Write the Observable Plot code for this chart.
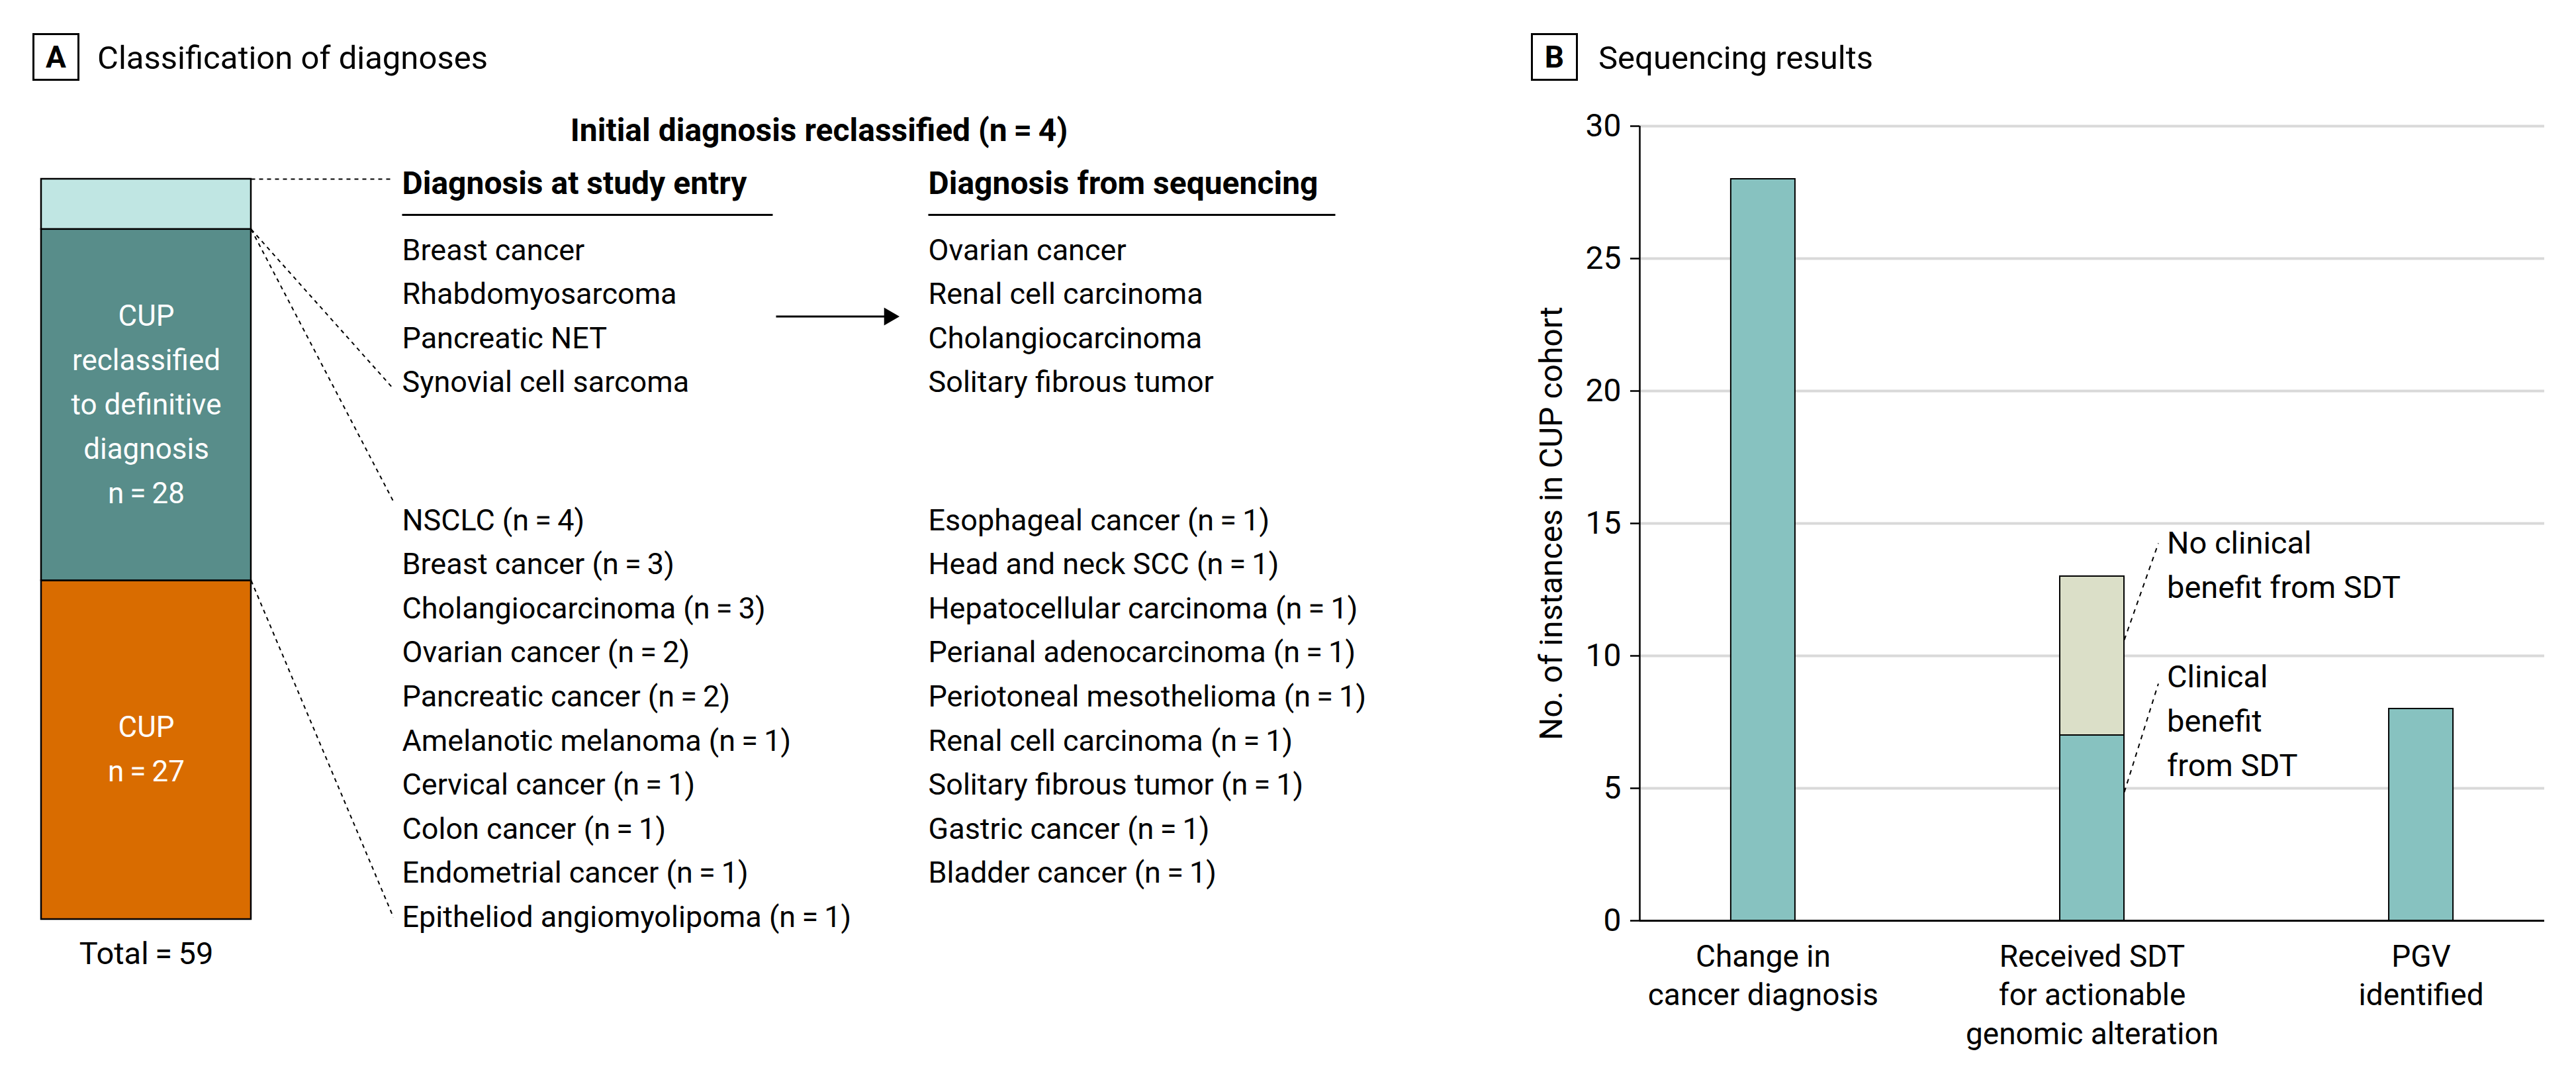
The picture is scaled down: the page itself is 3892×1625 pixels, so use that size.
<!DOCTYPE html>
<html><head><meta charset="utf-8">
<script src="https://cdn.jsdelivr.net/npm/d3@7"></script>
<script src="https://cdn.jsdelivr.net/npm/@observablehq/plot@0.6"></script>
<style>
html,body{margin:0;padding:0;background:#fff;}
#fig{position:relative;width:3892px;height:1625px;background:#fff;font-family:Roboto,"Open Sans",sans-serif;color:#000;display:flex;flex-direction:row;align-items:flex-start}
#fig svg{display:block;max-width:none;flex:none}
.pbox{position:absolute;width:65px;height:66px;border:3px solid #000;font-weight:700;font-size:46px;display:flex;align-items:center;justify-content:center;box-sizing:content-box;line-height:1}
.ptitle{position:absolute;font-size:49px;line-height:50px;white-space:nowrap}
</style></head><body>
<div id="fig"></div>
<script>
// ---------------- DATA ----------------
// Panel A: stacked bar (bottom to top)
const stackGroups = ["CUP", "CUP reclassified to definitive diagnosis", "Initial diagnosis reclassified"];
const stackCounts = [27, 28, 4];
const stackLabels = [["CUP", "n\u2009=\u200927"], ["CUP", "reclassified", "to definitive", "diagnosis", "n\u2009=\u200928"], []];

// Panel A: initial diagnosis reclassified
const entryDiagnoses = ["Breast cancer", "Rhabdomyosarcoma", "Pancreatic NET", "Synovial cell sarcoma"];
const sequencingDiagnoses = ["Ovarian cancer", "Renal cell carcinoma", "Cholangiocarcinoma", "Solitary fibrous tumor"];

// Panel A: CUP reclassified to definitive diagnosis
const reclassNamesLeft = ["NSCLC", "Breast cancer", "Cholangiocarcinoma", "Ovarian cancer", "Pancreatic cancer",
  "Amelanotic melanoma", "Cervical cancer", "Colon cancer", "Endometrial cancer", "Epitheliod angiomyolipoma"];
const reclassCountsLeft = [4, 3, 3, 2, 2, 1, 1, 1, 1, 1];
const reclassNamesRight = ["Esophageal cancer", "Head and neck SCC", "Hepatocellular carcinoma", "Perianal adenocarcinoma",
  "Periotoneal mesothelioma", "Renal cell carcinoma", "Solitary fibrous tumor", "Gastric cancer", "Bladder cancer"];
const reclassCountsRight = [1, 1, 1, 1, 1, 1, 1, 1, 1];

// Panel B: sequencing results
const seqCategories = [["Change in", "cancer diagnosis"], ["Received SDT", "for actionable", "genomic alteration"], ["PGV", "identified"]];
const seqSeries = ["Clinical benefit from SDT", "No clinical benefit from SDT"];
const seqPrimary = [28, 7, 8];
const seqNoBenefit = [0, 6, 0];
const yTicksB = [0, 5, 10, 15, 20, 25, 30];
const yLabelB = "No. of instances in CUP cohort";
const annotationLines = [["No clinical", "benefit from SDT"], ["Clinical", "benefit", "from SDT"]];

// ---------------- STYLE / LAYOUT ----------------
const stackColors = ["#d96c00", "#588d8a", "#c0e6e3"];
const seqColors = ["#87c2c0", "#dbdfc8"];
const FONT = "Roboto, 'Open Sans', sans-serif";
const fig = document.getElementById("fig");
const baseStyle = {fontFamily: FONT, fontSize: "45px", color: "#000", background: "transparent", overflow: "visible"};
const eqs = "\u2009=\u2009";

// ---------------- PANEL A ----------------
let acc = 0;
const stackTable = stackGroups.map((g, i) => {
  const y1 = acc; acc += stackCounts[i];
  return {g, y1, y2: acc, lines: stackLabels[i]};
});
const total = d3.sum(stackCounts);

const BAR_X1 = 62, BAR_X2 = 379, BAR_CX = (BAR_X1 + BAR_X2) / 2;
const Y_BOTTOM = 1388, Y_TOP = 270;
const yUnits = d3.scaleLinear().domain([Y_BOTTOM, Y_TOP]).range([0, total]); // layout pixel -> y units
const unitsPerPxA = total / (Y_BOTTOM - Y_TOP);

// single-line pieces of the bar labels, centred on each segment
const barLabelLines = [];
stackTable.forEach(d => {
  const n = d.lines.length, mid = (d.y1 + d.y2) / 2;
  d.lines.forEach((t, k) => barLabelLines.push({t, y: mid + ((n - 1) / 2 - k) * 67 * unitsPerPxA}));
});

const COL_ENTRY = 607, COL_SEQ = 1402, HEAD_CX = 1237;
const HEAD1_BASE = 212, HEAD2_BASE = 292, RULE_Y = 324;
const UP_BASE0 = 392, LOW_BASE0 = 800, ROW_STEP = 66.6;
const FS = 45, MID = 0.32 * FS; // baseline -> middle offset
const CONN_X = 594;

const rows = [];
entryDiagnoses.forEach((t, i) => rows.push({t, x: COL_ENTRY, y: yUnits(UP_BASE0 + i * ROW_STEP - MID)}));
sequencingDiagnoses.forEach((t, i) => rows.push({t, x: COL_SEQ, y: yUnits(UP_BASE0 + i * ROW_STEP - MID)}));
reclassNamesLeft.forEach((t, i) => rows.push({t: `${t} (n${eqs}${reclassCountsLeft[i]})`, x: COL_ENTRY, y: yUnits(LOW_BASE0 + i * ROW_STEP - MID)}));
reclassNamesRight.forEach((t, i) => rows.push({t: `${t} (n${eqs}${reclassCountsRight[i]})`, x: COL_SEQ, y: yUnits(LOW_BASE0 + i * ROW_STEP - MID)}));

const heads = [
  {t: `Initial diagnosis reclassified (n${eqs}${stackCounts[2]})`, x: HEAD_CX, y: yUnits(HEAD1_BASE - 0.32 * 48)},
  {t: "Diagnosis at study entry", x: COL_ENTRY, y: yUnits(HEAD2_BASE - 0.32 * 48)},
  {t: "Diagnosis from sequencing", x: COL_SEQ, y: yUnits(HEAD2_BASE - 0.32 * 48)}
];
const underlines = [{x1: COL_ENTRY, x2: 1167}, {x1: COL_SEQ, x2: 2017}];

const connectors = [
  {x1: BAR_X2, y1: total, x2: CONN_X, y2: total},
  {x1: BAR_X2, y1: total - stackCounts[2], x2: CONN_X, y2: yUnits(UP_BASE0 + 3 * ROW_STEP - 5)},
  {x1: BAR_X2, y1: total - stackCounts[2], x2: CONN_X, y2: yUnits(LOW_BASE0 - 43)},
  {x1: BAR_X2, y1: stackCounts[0], x2: CONN_X, y2: yUnits(LOW_BASE0 + 9 * ROW_STEP - MID)}
];
const arrowY = yUnits(UP_BASE0 + 1.5 * ROW_STEP - MID);

const chartA = Plot.plot({
  width: 2250, height: 1625, margin: 0,
  style: baseStyle,
  x: {type: "identity"},
  y: {domain: [0, total], range: [Y_BOTTOM, Y_TOP], axis: null},
  color: {domain: stackGroups, range: stackColors},
  marks: [
    Plot.rect(stackTable, {x1: () => BAR_X1, x2: () => BAR_X2, y1: "y1", y2: "y2", fill: "g", stroke: "#000", strokeWidth: 2.5}),
    Plot.text(barLabelLines, {x: () => BAR_CX, y: "y", text: "t", fill: "#fff", fontSize: 44}),
    Plot.text([`Total${eqs}${total}`], {x: () => BAR_CX, y: () => 0, text: d => d, dy: 52, fontSize: 47}),
    Plot.link(connectors, {x1: "x1", y1: "y1", x2: "x2", y2: "y2", stroke: "#000", strokeWidth: 2, strokeDasharray: "6,6"}),
    Plot.text(heads.slice(0, 1), {x: "x", y: "y", text: "t", textAnchor: "middle", fontSize: 48, fontWeight: 700}),
    Plot.text(heads.slice(1), {x: "x", y: "y", text: "t", textAnchor: "start", fontSize: 48, fontWeight: 700}),
    Plot.link(underlines, {x1: "x1", x2: "x2", y1: () => yUnits(RULE_Y), y2: () => yUnits(RULE_Y), stroke: "#000", strokeWidth: 3}),
    Plot.text(rows, {x: "x", y: "y", text: "t", textAnchor: "start", fontSize: FS}),
    Plot.link([{a: 1172, b: 1336}], {x1: "a", x2: "b", y1: () => arrowY, y2: () => arrowY, stroke: "#000", strokeWidth: 3}),
    Plot.dot([{a: 1343}], {x: "a", y: () => arrowY, symbol: "triangle", r: 10, rotate: 90, fill: "#000", stroke: "none"})
  ]
});
fig.appendChild(chartA);

// ---------------- PANEL B ----------------
const seqTable = [];
seqCategories.forEach((c, i) => {
  let base = 0;
  [seqPrimary[i], seqNoBenefit[i]].forEach((v, k) => {
    if (v > 0) seqTable.push({i, s: seqSeries[k], y1: base, y2: base + v});
    base += v;
  });
});
const X0 = -0.375, X1 = 2.375, HW = 0.0976;
const pxB = (X1 - X0) / 1367;   // x data units per pixel
const unitsPerPxB = 30 / 1200;  // y data units per pixel

const catLines = [];
seqCategories.forEach((lines, i) => lines.forEach((t, k) => catLines.push({t, x: i, y: -(54.6 + k * 58.5) * unitsPerPxB})));

const ANN_X = 1 + 113 * pxB;
const annTops = [14.25, 9.2];
const annLines = [];
annotationLines.forEach((lines, j) => lines.forEach((t, k) => annLines.push({t, x: ANN_X, y: annTops[j] - k * 67 * unitsPerPxB})));
const leaders = [
  {x1: 1 + HW, y1: 10.6, x2: 1 + 100 * pxB, y2: 14.25},
  {x1: 1 + HW, y1: 4.85, x2: 1 + 100 * pxB, y2: 8.95}
];

const chartB = Plot.plot({
  width: 1642, height: 1625, marginLeft: 227, marginRight: 48, marginTop: 190, marginBottom: 235,
  style: baseStyle,
  x: {domain: [X0, X1], axis: null},
  y: {domain: [0, 30], axis: null},
  color: {domain: seqSeries, range: seqColors},
  marks: [
    Plot.ruleY(yTicksB.filter(d => d > 0), {stroke: "#d9d9d9", strokeWidth: 4}),
    Plot.rect(seqTable, {x1: d => d.i - HW, x2: d => d.i + HW, y1: "y1", y2: "y2", fill: "s", stroke: "#000", strokeWidth: 2}),
    Plot.ruleY([0], {stroke: "#000", strokeWidth: 3}),
    Plot.ruleX([X0], {y1: 0, y2: 30, stroke: "#000", strokeWidth: 2.5}),
    Plot.ruleY(yTicksB, {x1: () => X0 - 14 * pxB, x2: () => X0, stroke: "#000", strokeWidth: 2.5}),
    Plot.text(yTicksB, {x: () => X0, y: d => d, text: d => String(d), dx: -28, textAnchor: "end", fontSize: 48}),
    Plot.text([yLabelB], {frameAnchor: "left", text: d => d, rotate: -90, textAnchor: "middle", dx: -133, fontSize: 48}),
    Plot.text(catLines, {x: "x", y: "y", text: "t", fontSize: 46}),
    Plot.link(leaders, {x1: "x1", y1: "y1", x2: "x2", y2: "y2", stroke: "#000", strokeWidth: 2, strokeDasharray: "7,7"}),
    Plot.text(annLines, {x: "x", y: "y", text: "t", textAnchor: "start", fontSize: 47})
  ]
});
fig.appendChild(chartB);

// panel headers (HTML)
[["A", 49, "Classification of diagnoses", 147], ["B", 2313, "Sequencing results", 2415]].forEach(([k, bx, t, tx]) => {
  const b = document.createElement("div"); b.className = "pbox"; b.style.left = bx + "px"; b.style.top = "50px"; b.textContent = k;
  const s = document.createElement("div"); s.className = "ptitle"; s.style.left = tx + "px"; s.style.top = "63px"; s.textContent = t;
  fig.appendChild(b); fig.appendChild(s);
});
</script>
</body></html>
